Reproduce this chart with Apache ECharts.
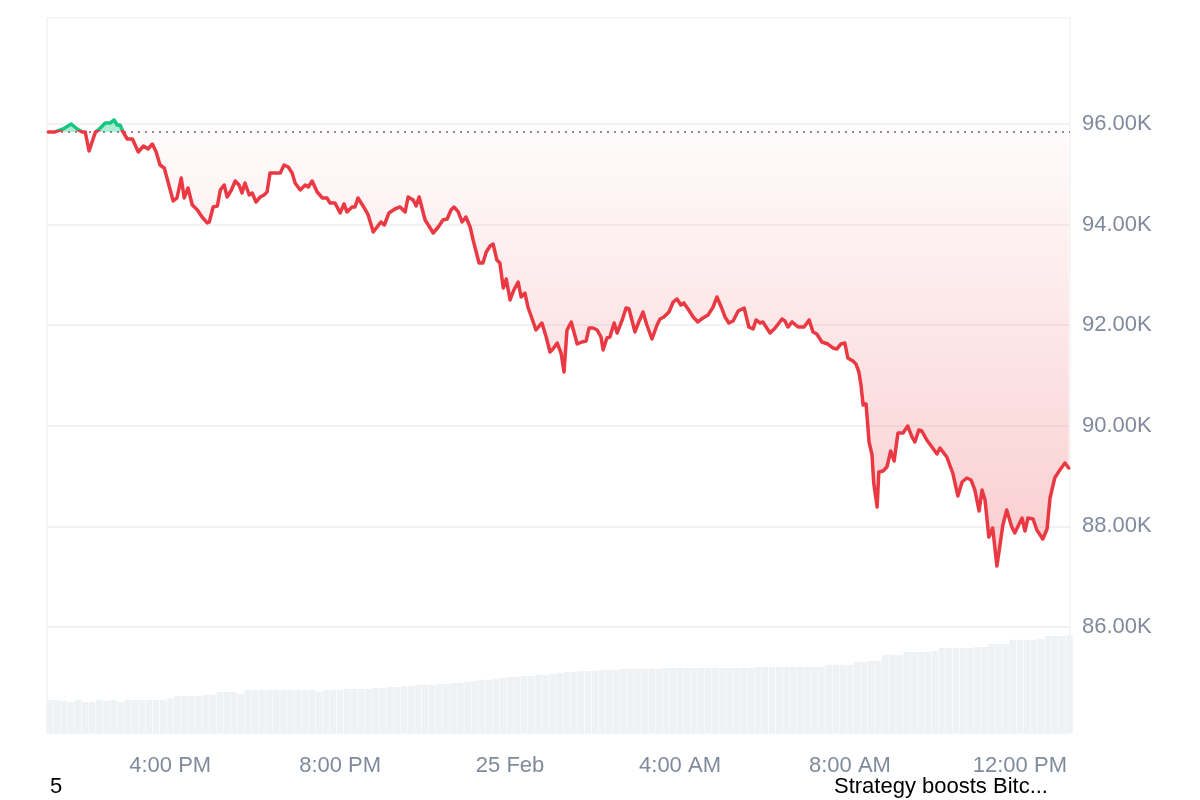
<!DOCTYPE html>
<html>
<head>
<meta charset="utf-8">
<script src="https://cdn.jsdelivr.net/npm/echarts@6/dist/echarts.min.js"></script>
<style>html,body{margin:0;padding:0;background:#fff}#c{width:1200px;height:800px}</style>
</head>
<body>
<div id="c"></div>
<script>
// time in hours since 24 Feb 00:00, price in USD
const pricePoints = [
[13.13,95841],[13.29,95841],[13.48,95901],[13.67,96000],[13.81,95901],[13.93,95841],[14.00,95841],[14.09,95463],[14.24,95841],[14.31,95881],
[14.47,96020],[14.59,96020],[14.68,96080],[14.75,95980],[14.82,95980],[14.89,95841],[14.99,95702],[15.11,95702],[15.25,95443],[15.37,95563],
[15.48,95503],[15.58,95602],[15.67,95443],[15.76,95185],[15.86,95125],[16.07,94469],[16.16,94529],[16.26,94926],[16.33,94529],[16.42,94728],
[16.52,94390],[16.64,94290],[16.75,94151],[16.87,94032],[16.92,94052],[17.01,94350],[17.11,94370],[17.18,94688],[17.27,94787],[17.34,94549],
[17.44,94688],[17.53,94867],[17.62,94787],[17.69,94628],[17.76,94827],[17.86,94589],[17.93,94628],[18.02,94449],[18.12,94549],[18.21,94589],
[18.28,94648],[18.35,95026],[18.47,95026],[18.59,95026],[18.68,95185],[18.78,95145],[18.87,95026],[18.94,94827],[19.06,94688],[19.18,94787],
[19.25,94748],[19.34,94867],[19.46,94648],[19.58,94529],[19.69,94529],[19.76,94430],[19.88,94430],[20.00,94231],[20.09,94410],[20.16,94251],
[20.28,94350],[20.35,94350],[20.42,94529],[20.54,94370],[20.66,94191],[20.78,93853],[20.87,93952],[20.96,94052],[21.04,93992],[21.15,94231],
[21.29,94310],[21.41,94350],[21.53,94251],[21.60,94549],[21.72,94489],[21.79,94370],[21.86,94549],[22.00,94092],[22.12,93932],[22.19,93833],
[22.31,93952],[22.42,94092],[22.52,94111],[22.61,94290],[22.68,94350],[22.78,94251],[22.87,94052],[22.96,94151],[23.06,93952],[23.13,93694],
[23.27,93237],[23.36,93237],[23.44,93455],[23.53,93575],[23.60,93614],[23.69,93296],[23.76,93237],[23.84,92740],[23.91,92919],[24.00,92501],
[24.09,92700],[24.19,92859],[24.26,92561],[24.35,92640],[24.42,92362],[24.61,91905],[24.75,92044],[24.85,91766],[24.94,91467],[25.01,91527],
[25.11,91646],[25.20,91447],[25.27,91070],[25.34,91905],[25.44,92064],[25.51,91845],[25.58,91626],[25.69,91666],[25.79,91686],[25.86,91944],
[25.95,91944],[26.05,91905],[26.14,91766],[26.19,91507],[26.28,91746],[26.35,91766],[26.45,92044],[26.52,91845],[26.64,92104],[26.73,92342],
[26.80,92322],[26.94,91865],[27.04,92084],[27.13,92263],[27.22,92004],[27.34,91726],[27.46,92004],[27.53,92124],[27.62,92163],[27.74,92263],
[27.84,92461],[27.93,92521],[28.02,92402],[28.09,92442],[28.19,92322],[28.31,92163],[28.42,92064],[28.54,92143],[28.66,92203],[28.78,92362],
[28.87,92561],[28.97,92362],[29.06,92163],[29.15,92044],[29.25,92084],[29.37,92283],[29.51,92342],[29.62,91964],[29.72,91925],[29.79,92104],
[29.88,92044],[29.95,92064],[30.12,91845],[30.24,91944],[30.40,92124],[30.47,92084],[30.54,91964],[30.64,92064],[30.78,91964],[30.92,91964],
[31.04,92104],[31.13,91865],[31.22,91825],[31.34,91666],[31.48,91626],[31.60,91547],[31.69,91527],[31.79,91626],[31.88,91646],[31.95,91348],
[32.07,91288],[32.14,91229],[32.21,91070],[32.26,90811],[32.31,90414],[32.38,90434],[32.45,89678],[32.52,89420],[32.56,88863],[32.64,88386],
[32.68,89082],[32.78,89102],[32.87,89181],[32.96,89499],[33.04,89300],[33.13,89857],[33.25,89857],[33.36,89996],[33.46,89778],[33.53,89678],
[33.62,89917],[33.69,89897],[33.81,89718],[33.93,89579],[34.05,89440],[34.12,89559],[34.28,89380],[34.42,89062],[34.54,88605],[34.64,88883],
[34.75,88962],[34.85,88923],[34.94,88724],[35.04,88306],[35.11,88724],[35.18,88525],[35.27,87790],[35.36,87968],[35.46,87213],[35.60,88028],
[35.69,88326],[35.81,87988],[35.88,87869],[36.05,88167],[36.12,87909],[36.19,88167],[36.31,88147],[36.40,87929],[36.54,87750],[36.64,87948],
[36.71,88565],[36.82,88962],[36.94,89121],[37.06,89261],[37.15,89161]
];

// trading volume (billions USD), one bar per 10 minutes starting 13:10
const volStart = 13 + 10/60;
const volStep = 10/60;
const volumes = [
13.9,13.9,13.4,13.0,13.9,13.0,13.0,13.9,13.4,13.9,13.0,13.9,13.9,13.9,13.9,13.9,13.9,
14.7,15.5,15.5,15.5,15.5,16.0,16.0,17.2,17.2,17.2,16.4,
18.1,18.1,18.1,18.1,18.1,18.1,18.1,18.1,18.1,18.1,17.2,18.1,18.1,18.1,
18.5,18.5,18.5,18.5,18.9,18.9,19.3,19.3,19.7,19.7,20.2,20.2,20.2,20.6,20.6,21.0,21.0,21.4,21.8,22.3,22.3,22.7,23.1,23.5,23.5,23.9,23.9,24.4,24.4,24.8,25.2,25.6,25.6,
26.0,26.0,26.0,26.5,26.5,26.5,26.9,26.9,26.9,26.9,26.9,26.9,
27.3,27.3,27.3,27.3,27.3,27.3,27.3,27.3,27.3,27.3,27.3,27.3,27.3,
27.7,27.7,27.7,27.7,27.7,27.7,27.7,27.7,27.7,27.7,
28.6,28.6,28.6,28.6,29.8,29.8,30.2,30.2,32.8,32.8,32.8,34.0,34.0,34.0,34.0,34.4,
35.7,35.7,35.7,35.7,35.7,36.1,36.1,37.4,37.4,37.4,39.1,39.1,39.1,39.1,39.5,40.7,40.7,40.7,41.2
];

const xStart = 13.1, xEnd = 37.18;
const xTicks = [16, 20, 24, 28, 32, 36];
const xTickLabels = ['4:00 PM', '8:00 PM', '25 Feb', '4:00 AM', '8:00 AM', '12:00 PM'];
const yMin = 83893, yMax = 98107;
const yTicks = [86000, 88000, 90000, 92000, 94000, 96000];
const bottomNotes = ['5', 'Strategy boosts Bitc...'];

const FONT = '"Liberation Sans", Arial, Helvetica, sans-serif';
const RED = '#ea3943', GREEN = '#16c784';
const baseline = pricePoints[0][1];
const pVals = pricePoints.map(p => p[1]);
const pMax = Math.max(...pVals), pMin = Math.min(...pVals);
const f = (pMax - baseline) / (pMax - pMin);

const lineGrad = new echarts.graphic.LinearGradient(0, 0, 0, 1, [
  {offset: 0, color: GREEN}, {offset: f, color: GREEN},
  {offset: f, color: RED}, {offset: 1, color: RED}
]);
const areaGrad = new echarts.graphic.LinearGradient(0, 0, 0, 1, [
  {offset: 0, color: 'rgba(22,199,132,0.35)'},
  {offset: f, color: 'rgba(22,199,132,0.35)'},
  {offset: f, color: 'rgba(234,57,67,0.02)'},
  {offset: 1, color: 'rgba(234,57,67,0.25)'}
]);

const chart = echarts.init(document.getElementById('c'), null, {renderer: 'canvas'});
chart.setOption({
  animation: false,
  textStyle: {fontFamily: FONT},
  grid: {left: 47, right: 130, top: 18, bottom: 67, show: true, borderColor: '#ececec', borderWidth: 1, backgroundColor: 'transparent'},
  xAxis: {
    type: 'value', min: xStart, max: xEnd,
    axisLine: {show: false},
    axisTick: {show: false, customValues: xTicks},
    splitLine: {show: false},
    axisLabel: {customValues: xTicks, formatter: v => xTickLabels[xTicks.indexOf(v)], color: '#808a9d', fontSize: 22, margin: 22, fontFamily: FONT}
  },
  yAxis: [
    {
      type: 'value', position: 'right', min: yMin, max: yMax,
      axisLine: {show: false},
      axisTick: {show: false, customValues: yTicks},
      splitLine: {show: true, lineStyle: {color: '#eeeef0', width: 1.5}},
      axisLabel: {customValues: yTicks, formatter: v => (v / 1000).toFixed(2) + 'K', color: '#808a9d', fontSize: 22, margin: 12, fontFamily: FONT}
    },
    {type: 'value', min: 0, max: 300, show: false, splitLine: {show: false}}
  ],
  series: [
    {
      type: 'line', data: pricePoints, showSymbol: false, symbol: 'none', z: 5,
      itemStyle: {color: RED},
      lineStyle: {width: 3.5, join: 'round', cap: 'round', color: lineGrad},
      areaStyle: {origin: baseline, color: areaGrad, opacity: 1},
      markLine: {
        silent: true, symbol: 'none', label: {show: false},
        lineStyle: {color: '#8a8a8a', width: 2, type: [2, 5]},
        data: [{yAxis: baseline}]
      }
    },
    {
      type: 'bar', xAxisIndex: 0, yAxisIndex: 1, silent: true, z: 1,
      data: volumes.map((v, i) => [volStart + i * volStep, v]),
      barWidth: 6.6, itemStyle: {color: '#eff2f5'}
    }
  ],
  graphic: [
    {type: 'text', style: {text: bottomNotes[0], x: 50, y: 787, fill: '#000', fontSize: 22, fontFamily: FONT, verticalAlign: 'middle'}},
    {type: 'text', style: {text: bottomNotes[1], x: 834, y: 787, fill: '#000', fontSize: 22, fontFamily: FONT, verticalAlign: 'middle'}}
  ]
});
</script>
</body>
</html>
